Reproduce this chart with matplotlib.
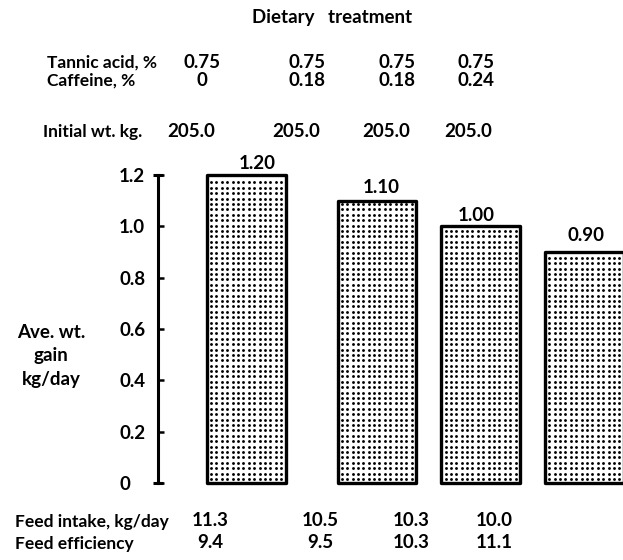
import numpy as np
import matplotlib
matplotlib.use("Agg")
import matplotlib.pyplot as plt

# Treatment table
tannic_acid = [0.75, 0.75, 0.75, 0.75]
caffeine = ["0", "0.18", "0.18", "0.24"]
initial_wt = [205.0, 205.0, 205.0, 205.0]
avg_gain = [1.20, 1.10, 1.00, 0.90]
feed_intake = [11.3, 10.5, 10.3, 10.0]
feed_eff = [9.4, 9.5, 10.3, 11.1]
y_ticks = [0, 0.2, 0.4, 0.6, 0.8, 1.0, 1.2]
y_ticklabels = ["0", "0.2", "0.4", "0.6", "0.8", "1.0", "1.2"]

W, H = 623, 560
FONT = ["Lato", "DejaVu Sans"]
plt.rcParams["font.family"] = FONT
FS = 13.5

fig = plt.figure(figsize=(W / 100, H / 100), dpi=100)


def fx(x):
    return x / W


def fy(y):
    return 1 - y / H


def put(x, y, s, ha="center", size=FS, **kw):
    fig.text(fx(x), fy(y), s, ha=ha, va="center", fontsize=size,
             fontweight="bold", **kw)


# axes: spine at x=158 px, 0 at y=483 px, 1.2 at y=175 px
ax = fig.add_axes([fx(158), fy(483), 1 - fx(158), (483 - 175) / H])
ax.set_ylim(0, 1.2)
bar_pos = np.array([0.0, 1.26, 2.26, 3.26])
ax.set_xlim(-0.85, 3.63)

bar_w = 0.76
bars = ax.bar(bar_pos, avg_gain, width=bar_w, facecolor="white",
              edgecolor="black", linewidth=2.4, clip_on=False, zorder=3,
              joinstyle="round")

# dotted screen inside each bar
for rect in bars:
    x0 = rect.get_x()
    h = rect.get_height()
    xs = np.arange(x0 + 0.04, x0 + bar_w - 0.025, 0.052)
    ys = np.arange(0.016, h - 0.01, 0.021)
    gx, gy = np.meshgrid(xs, ys)
    ax.scatter(gx.ravel(), gy.ravel(), s=4.2, c="black", marker="o",
               linewidths=0, zorder=4, clip_on=False)

# value labels above bars (small per-bar nudges in points)
label_dx = [8, 3, -3, 1]
label_dy = [2, 3, 2, 6]
for p, v, dx, dy in zip(bar_pos, avg_gain, label_dx, label_dy):
    ax.annotate(f"{v:.2f}", (p, v), xytext=(dx, dy), textcoords="offset points",
                ha="center", va="bottom", fontsize=FS, fontweight="bold")

for s in ["top", "right", "bottom"]:
    ax.spines[s].set_visible(False)
ax.spines["left"].set_linewidth(2.2)
ax.set_xticks([])
ax.set_yticks(y_ticks)
ax.set_yticklabels(y_ticklabels, fontsize=FS, fontweight="bold", ha="left")
ax.tick_params(axis="y", direction="in", length=4, width=1.8, pad=28)
ax.patch.set_visible(False)
# end caps on the axis line
ax.plot([0, 0], [0, 1.2], ls="none", marker="_", ms=7, mew=2.2, color="black",
        transform=ax.get_yaxis_transform(), clip_on=False)

# row labels are set a touch smaller so they keep clear of the columns
ROW_FS = 12.5

# header
put(332, 17, "Dietary   treatment")
put(47, 63, "Tannic acid, %", ha="left", size=ROW_FS)
put(47, 81, "Caffeine, %", ha="left", size=ROW_FS)
col_top = [202, 307, 397, 476]
for x, t, c in zip(col_top, tannic_acid, caffeine):
    put(x, 63, f"{t:.2f}")
    put(x, 81, c)

put(43, 132, "Initial wt. kg.", ha="left", size=ROW_FS)
col_init = [191, 296, 386, 468]
for x, w in zip(col_init, initial_wt):
    put(x, 131, f"{w:.1f}")

# y label
put(51, 332, "Ave. wt.")
put(51, 356, "gain")
put(51, 380, "kg/day")

# footer
put(15, 522, "Feed intake, kg/day", ha="left", size=ROW_FS)
put(15, 544, "Feed efficiency", ha="left", size=ROW_FS)
col_bot = [210, 320, 411, 494]
for x, fi, fe in zip(col_bot, feed_intake, feed_eff):
    put(x, 520, f"{fi:.1f}")
    put(x, 542, f"{fe:.1f}")

fig.savefig("out.png", dpi=100)
